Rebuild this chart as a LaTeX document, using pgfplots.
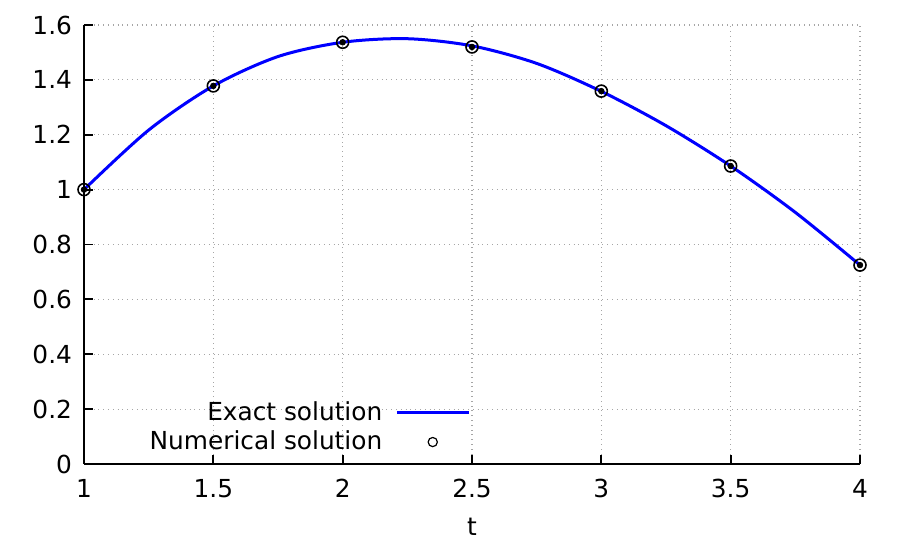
\documentclass[border=0pt]{standalone}
\usepackage{fontspec}
\setmainfont{DejaVu Sans}
\usepackage{pgfplots}
\pgfplotsset{compat=1.18}
\usetikzlibrary{calc}
\pgfplotsset{
  linelegend/.style={legend image code/.code={\draw[##1] (0pt,0pt) -- (36pt,0pt);}},
  marklegend/.style={legend image code/.code={\draw[##1] plot coordinates {(18pt,0pt)};}},
}

\begin{document}
\begin{tikzpicture}
\begin{axis}[
  scale only axis,
  width=388pt, height=219.5pt,
  xmin=1, xmax=4, ymin=0, ymax=1.6,
  xtick={1,1.5,2,2.5,3,3.5,4},
  ytick={0,0.2,0.4,0.6,0.8,1,1.2,1.4,1.6},
  axis x line*=bottom, axis y line*=left,
  xtick pos=both, ytick pos=left,
  tick align=inside,
  major tick length=4.5pt,
  axis line style={line width=0.9pt, black},
  every tick/.style={black, line width=0.9pt},
  grid=major,
  major grid style={gray!70, dotted, line width=0.6pt},
  xlabel={t},
  xlabel style={yshift=-3.5pt},
  font=\fontsize{12.4}{14}\selectfont,
  tick label style={font=\fontsize{12.4}{14}\selectfont},
  xticklabel style={yshift=-4pt},
  yticklabel style={xshift=-2.5pt},
  /pgf/number format/assume math mode=true,
  legend style={draw=none, fill=none, at={(0.506,0.006)}, anchor=south east,
    legend plot pos=right, cells={anchor=east}, column sep=4.5pt,
    font=\fontsize{12.4}{14}\selectfont},
]
% exact solution
\addplot[blue, line width=1.5pt, smooth, linelegend] coordinates {
  (1.00,1.000) (1.25,1.217) (1.50,1.378) (1.75,1.485) (2.00,1.537)
  (2.25,1.550) (2.50,1.524) (2.75,1.460) (3.00,1.358) (3.25,1.233)
  (3.50,1.086) (3.75,0.917) (4.00,0.725)};
\addlegendentry{Exact solution}
% numerical solution
\addplot[only marks, black, mark=o, mark size=3pt, mark options={line width=0.8pt}, forget plot]
  coordinates {(1,1) (1.5,1.378) (2,1.537) (2.5,1.520) (3,1.359) (3.5,1.086) (4,0.725)};
\addplot[only marks, black, mark=*, mark size=1.4pt, forget plot]
  coordinates {(1,1) (1.5,1.378) (2,1.537) (2.5,1.520) (3,1.359) (3.5,1.086) (4,0.725)};
\addlegendimage{only marks, black, mark=o, mark size=2.3pt, mark options={line width=0.6pt}, marklegend}
\addlegendentry{Numerical solution}
\end{axis}
\pgfresetboundingbox
\path[use as bounding box] ($(current axis.south west)+(-42pt,-38pt)$) rectangle ($(current axis.north east)+(19.5pt,12.5pt)$);
\end{tikzpicture}
\end{document}
